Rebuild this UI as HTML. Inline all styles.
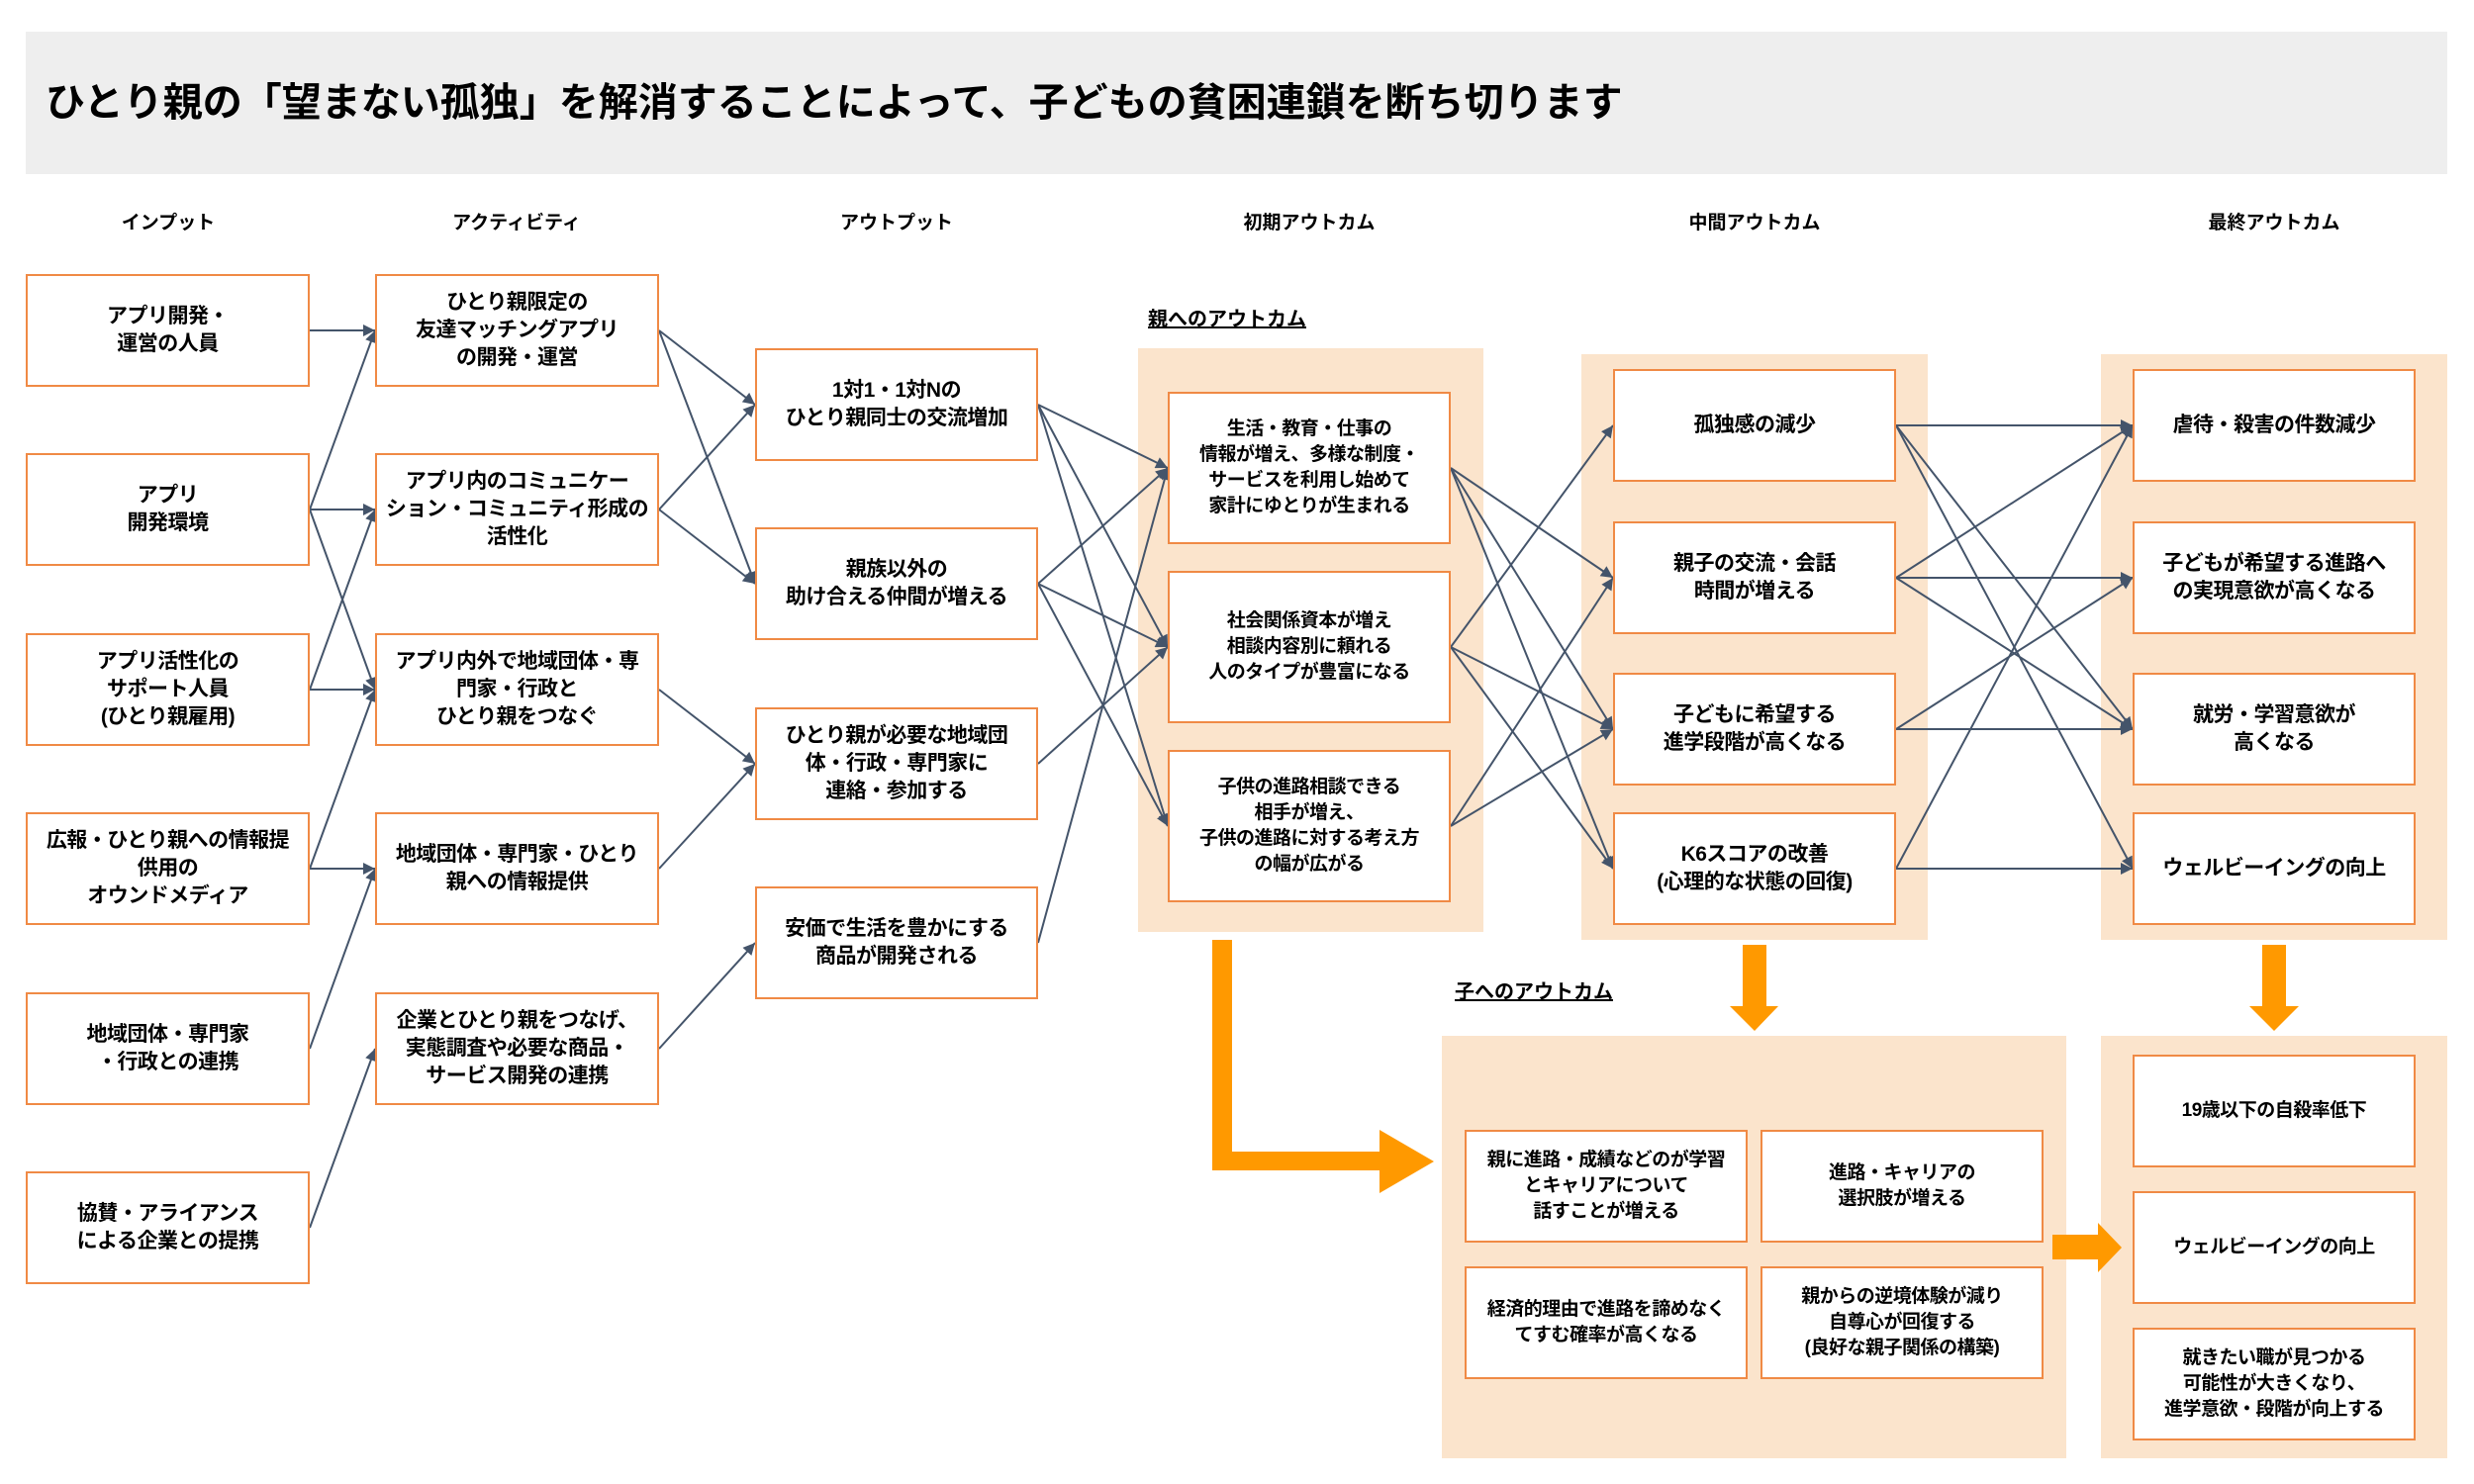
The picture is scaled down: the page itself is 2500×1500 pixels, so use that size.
<!DOCTYPE html>
<html><head><meta charset="utf-8"><style>
body{margin:0;width:2500px;height:1500px;background:#fff;position:relative;overflow:hidden;font-family:"Liberation Sans","Noto Sans CJK JP",sans-serif;font-weight:bold;color:#000}
.a{position:absolute}
.b{position:absolute;background:#fff;border:2px solid #f08a45;box-sizing:border-box;display:flex;align-items:center;justify-content:center;text-align:center;font-size:21px;line-height:28px;letter-spacing:-0.5px}
.s{font-size:19px;line-height:26px}
.p{position:absolute;background:#fbe4cc}
.h{position:absolute;font-size:19px;transform:translateX(-50%);top:210px}
.u{position:absolute;font-size:20px;text-decoration:underline}
</style></head><body>
<div class="a" style="left:26px;top:32px;width:2447px;height:144px;background:#eeeeee"></div>
<div class="a" style="left:46px;top:78px;font-size:40px;line-height:52px;letter-spacing:0px">ひとり親の「望まない孤独」を解消することによって、子どもの貧困連鎖を断ち切ります</div>
<div class="h" style="left:170px">インプット</div>
<div class="h" style="left:522px">アクティビティ</div>
<div class="h" style="left:906px">アウトプット</div>
<div class="h" style="left:1323px">初期アウトカム</div>
<div class="h" style="left:1773px">中間アウトカム</div>
<div class="h" style="left:2298px">最終アウトカム</div>
<div class="u" style="left:1160px;top:306px">親へのアウトカム</div>
<div class="u" style="left:1470px;top:986px">子へのアウトカム</div>

<div class="p" style="left:1150px;top:352px;width:349px;height:590px"></div>
<div class="p" style="left:1598px;top:358px;width:350px;height:592px"></div>
<div class="p" style="left:2123px;top:358px;width:350px;height:592px"></div>
<div class="p" style="left:1457px;top:1047px;width:631px;height:427px"></div>
<div class="p" style="left:2123px;top:1047px;width:350px;height:427px"></div>

<svg class="a" style="left:0;top:0" width="2500" height="1500">
<defs><marker id="m" viewBox="0 0 10 10" refX="10" refY="5" markerWidth="7" markerHeight="7" orient="auto" markerUnits="userSpaceOnUse"><path d="M0,0L10,5L0,10z" fill="#44546a"/></marker>
<marker id="k" viewBox="0 0 10 10" refX="10" refY="5" markerWidth="14" markerHeight="12" orient="auto" markerUnits="userSpaceOnUse"><path d="M0,0L10,5L0,10z" fill="#44546a"/></marker></defs>
<g stroke="#44546a" stroke-width="2" fill="none" marker-end="url(#k)">
<!-- input -> activity -->
<line x1="313" y1="334" x2="379" y2="334"/>
<line x1="313" y1="515" x2="379" y2="334"/>
<line x1="313" y1="515" x2="379" y2="515"/>
<line x1="313" y1="515" x2="379" y2="697"/>
<line x1="313" y1="697" x2="379" y2="515"/>
<line x1="313" y1="697" x2="379" y2="697"/>
<line x1="313" y1="878" x2="379" y2="697"/>
<line x1="313" y1="878" x2="379" y2="878"/>
<line x1="313" y1="1060" x2="379" y2="878"/>
<line x1="313" y1="1241" x2="379" y2="1060"/>
<!-- activity -> output -->
<line x1="666" y1="334" x2="763" y2="409"/>
<line x1="666" y1="334" x2="763" y2="590"/>
<line x1="666" y1="515" x2="763" y2="409"/>
<line x1="666" y1="515" x2="763" y2="590"/>
<line x1="666" y1="697" x2="763" y2="772"/>
<line x1="666" y1="878" x2="763" y2="772"/>
<line x1="666" y1="1060" x2="763" y2="953"/>
<!-- output -> early -->
<line x1="1049" y1="409" x2="1180" y2="473"/>
<line x1="1049" y1="409" x2="1180" y2="654"/>
<line x1="1049" y1="409" x2="1180" y2="835"/>
<line x1="1049" y1="590" x2="1180" y2="473"/>
<line x1="1049" y1="590" x2="1180" y2="654"/>
<line x1="1049" y1="590" x2="1180" y2="835"/>
<line x1="1049" y1="772" x2="1180" y2="654"/>
<line x1="1049" y1="953" x2="1180" y2="473"/>
<!-- early -> inter -->
<line x1="1466" y1="473" x2="1630" y2="584"/>
<line x1="1466" y1="473" x2="1630" y2="737"/>
<line x1="1466" y1="473" x2="1630" y2="878"/>
<line x1="1466" y1="654" x2="1630" y2="430"/>
<line x1="1466" y1="654" x2="1630" y2="737"/>
<line x1="1466" y1="654" x2="1630" y2="878"/>
<line x1="1466" y1="835" x2="1630" y2="584"/>
<line x1="1466" y1="835" x2="1630" y2="737"/>
<!-- inter -> final -->
<line x1="1916" y1="430" x2="2155" y2="430"/>
<line x1="1916" y1="430" x2="2155" y2="737"/>
<line x1="1916" y1="430" x2="2155" y2="878"/>
<line x1="1916" y1="584" x2="2155" y2="430"/>
<line x1="1916" y1="584" x2="2155" y2="584"/>
<line x1="1916" y1="584" x2="2155" y2="737"/>
<line x1="1916" y1="737" x2="2155" y2="584"/>
<line x1="1916" y1="737" x2="2155" y2="737"/>
<line x1="1916" y1="878" x2="2155" y2="430"/>
<line x1="1916" y1="878" x2="2155" y2="878"/>
</g>
<g fill="#ff9900">
<polygon points="1225,950 1245,950 1245,1164 1394,1164 1394,1142 1449,1174 1394,1206 1394,1183 1225,1183"/>
<polygon points="1761,955 1785,955 1785,1017 1797,1017 1773,1042 1748,1017 1761,1017"/>
<polygon points="2286,955 2310,955 2310,1017 2323,1017 2298,1042 2273,1017 2286,1017"/>
<polygon points="2074,1248 2120,1248 2120,1236 2144,1261 2120,1286 2120,1273 2074,1273"/>
</g>
</svg>

<div class="b" style="left:26px;top:277px;width:287px;height:114px">アプリ開発・<br>運営の人員</div>
<div class="b" style="left:26px;top:458px;width:287px;height:114px">アプリ<br>開発環境</div>
<div class="b" style="left:26px;top:640px;width:287px;height:114px">アプリ活性化の<br>サポート人員<br>(ひとり親雇用)</div>
<div class="b" style="left:26px;top:821px;width:287px;height:114px">広報・ひとり親への情報提<br>供用の<br>オウンドメディア</div>
<div class="b" style="left:26px;top:1003px;width:287px;height:114px">地域団体・専門家<br>・行政との連携</div>
<div class="b" style="left:26px;top:1184px;width:287px;height:114px">協賛・アライアンス<br>による企業との提携</div>

<div class="b" style="left:379px;top:277px;width:287px;height:114px">ひとり親限定の<br>友達マッチングアプリ<br>の開発・運営</div>
<div class="b" style="left:379px;top:458px;width:287px;height:114px">アプリ内のコミュニケー<br>ション・コミュニティ形成の<br>活性化</div>
<div class="b" style="left:379px;top:640px;width:287px;height:114px">アプリ内外で地域団体・専<br>門家・行政と<br>ひとり親をつなぐ</div>
<div class="b" style="left:379px;top:821px;width:287px;height:114px">地域団体・専門家・ひとり<br>親への情報提供</div>
<div class="b" style="left:379px;top:1003px;width:287px;height:114px">企業とひとり親をつなげ、<br>実態調査や必要な商品・<br>サービス開発の連携</div>

<div class="b" style="left:763px;top:352px;width:286px;height:114px">1対1・1対Nの<br>ひとり親同士の交流増加</div>
<div class="b" style="left:763px;top:533px;width:286px;height:114px">親族以外の<br>助け合える仲間が増える</div>
<div class="b" style="left:763px;top:715px;width:286px;height:114px">ひとり親が必要な地域団<br>体・行政・専門家に<br>連絡・参加する</div>
<div class="b" style="left:763px;top:896px;width:286px;height:114px">安価で生活を豊かにする<br>商品が開発される</div>

<div class="b s" style="left:1180px;top:396px;width:286px;height:154px">生活・教育・仕事の<br>情報が増え、多様な制度・<br>サービスを利用し始めて<br>家計にゆとりが生まれる</div>
<div class="b s" style="left:1180px;top:577px;width:286px;height:154px">社会関係資本が増え<br>相談内容別に頼れる<br>人のタイプが豊富になる</div>
<div class="b s" style="left:1180px;top:758px;width:286px;height:154px">子供の進路相談できる<br>相手が増え、<br>子供の進路に対する考え方<br>の幅が広がる</div>

<div class="b" style="left:1630px;top:373px;width:286px;height:114px">孤独感の減少</div>
<div class="b" style="left:1630px;top:527px;width:286px;height:114px">親子の交流・会話<br>時間が増える</div>
<div class="b" style="left:1630px;top:680px;width:286px;height:114px">子どもに希望する<br>進学段階が高くなる</div>
<div class="b" style="left:1630px;top:821px;width:286px;height:114px">K6スコアの改善<br>(心理的な状態の回復)</div>

<div class="b" style="left:2155px;top:373px;width:286px;height:114px">虐待・殺害の件数減少</div>
<div class="b" style="left:2155px;top:527px;width:286px;height:114px">子どもが希望する進路へ<br>の実現意欲が高くなる</div>
<div class="b" style="left:2155px;top:680px;width:286px;height:114px">就労・学習意欲が<br>高くなる</div>
<div class="b" style="left:2155px;top:821px;width:286px;height:114px">ウェルビーイングの向上</div>

<div class="b s" style="left:1480px;top:1142px;width:286px;height:114px">親に進路・成績などのが学習<br>とキャリアについて<br>話すことが増える</div>
<div class="b s" style="left:1779px;top:1142px;width:286px;height:114px">進路・キャリアの<br>選択肢が増える</div>
<div class="b s" style="left:1480px;top:1280px;width:286px;height:114px">経済的理由で進路を諦めなく<br>てすむ確率が高くなる</div>
<div class="b s" style="left:1779px;top:1280px;width:286px;height:114px">親からの逆境体験が減り<br>自尊心が回復する<br>(良好な親子関係の構築)</div>

<div class="b s" style="left:2155px;top:1066px;width:286px;height:114px">19歳以下の自殺率低下</div>
<div class="b s" style="left:2155px;top:1204px;width:286px;height:114px">ウェルビーイングの向上</div>
<div class="b s" style="left:2155px;top:1342px;width:286px;height:114px">就きたい職が見つかる<br>可能性が大きくなり、<br>進学意欲・段階が向上する</div>
</body></html>
